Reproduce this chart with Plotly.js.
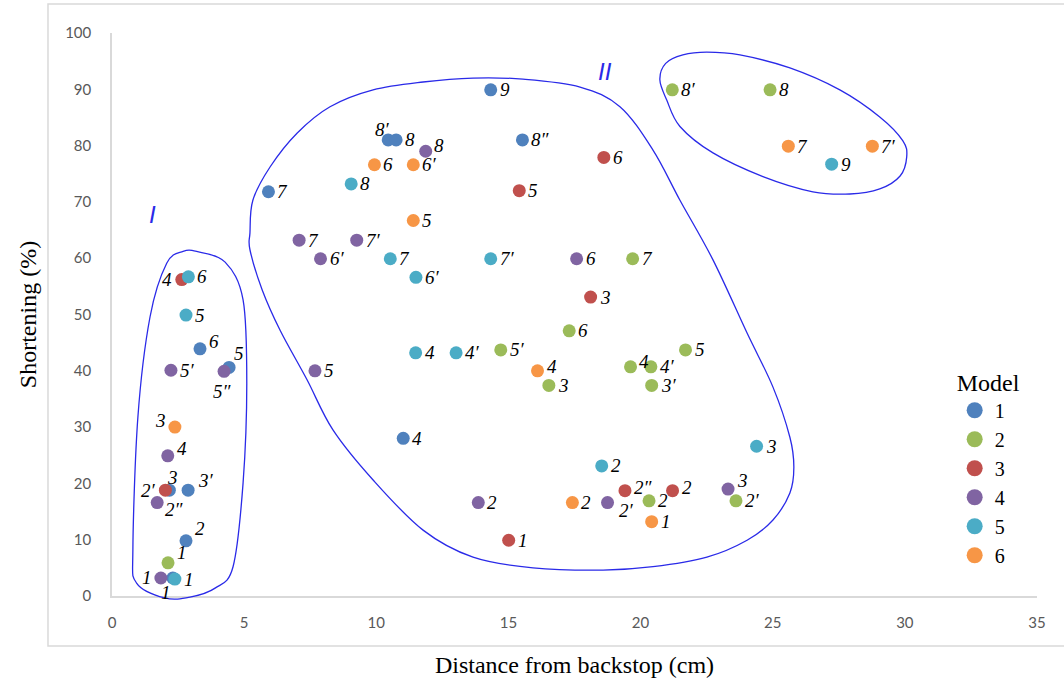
<!DOCTYPE html>
<html>
<head>
<meta charset="utf-8">
<script src="https://cdn.plot.ly/plotly-3.0.1.min.js"></script>
<style>html,body{margin:0;padding:0;background:#fff;}#chart{width:1064px;height:680px;}</style>
</head>
<body>
<div id="chart"></div>
<script>
// ---- data ----
var models = ['1', '2', '3', '4', '5', '6'];

var m1_x = [2.30, 2.80, 2.17, 2.88, 11.02, 4.43, 3.33, 5.92, 10.45, 10.75, 15.53, 14.33];
var m1_y = [3.2, 9.8, 18.8, 18.8, 28.0, 40.6, 43.9, 71.8, 81.0, 81.0, 81.0, 89.9];
var m1_labels = ['1', '2', '3', '3′', '4', '5', '6', '7', '8′', '8', '8″', '9'];

var m2_x = [2.12, 20.32, 23.61, 16.53, 20.42, 19.62, 20.39, 21.70, 14.71, 17.30, 19.70, 21.20, 24.90];
var m2_y = [5.9, 16.9, 16.9, 37.4, 37.4, 40.7, 40.7, 43.7, 43.7, 47.1, 59.9, 89.9, 89.9];
var m2_labels = ['1', '2', '2′', '3', '3′', '4', '4′', '5', '5′', '6', '7', '8′', '8'];

var m3_x = [15.01, 21.21, 19.41, 2.02, 18.11, 2.64, 15.41, 18.61];
var m3_y = [9.9, 18.7, 18.7, 18.8, 53.1, 56.2, 72.0, 77.9];
var m3_labels = ['1', '2', '2″', '2′', '3', '4', '5', '6'];

var m4_x = [1.85, 13.86, 18.75, 1.71, 23.31, 2.11, 7.68, 2.23, 4.24, 17.58, 7.89, 7.08, 9.26, 11.87];
var m4_y = [3.2, 16.6, 16.6, 16.6, 19.0, 24.9, 40.0, 40.1, 39.9, 59.9, 59.9, 63.2, 63.2, 79.0];
var m4_labels = ['1', '2', '2′', '2″', '3', '4', '5', '5′', '5″', '6', '6′', '7', '7′', '8'];

var m5_x = [2.38, 18.53, 24.39, 11.49, 13.02, 2.80, 2.89, 11.50, 10.53, 14.33, 9.05, 27.23];
var m5_y = [3.0, 23.1, 26.6, 43.2, 43.2, 49.9, 56.7, 56.6, 59.9, 59.9, 73.2, 76.7];
var m5_labels = ['1', '2', '3', '4', '4′', '5', '6', '6′', '7', '7′', '8', '9'];

var m6_x = [20.42, 17.42, 2.38, 16.10, 11.40, 9.93, 11.40, 25.59, 28.77];
var m6_y = [13.2, 16.6, 30.0, 40.0, 66.7, 76.6, 76.6, 79.9, 79.9];
var m6_labels = ['1', '2', '3', '4', '5', '6', '6′', '7', '7′'];

var xTicks = [0, 5, 10, 15, 20, 25, 30, 35];
var yTicks = [0, 10, 20, 30, 40, 50, 60, 70, 80, 90, 100];

// ---- label placement (style): [anchor, x shift px, y shift px] ----
var D = ['left', 7, 0];
var m1_pos = [['center', -7, -15], ['left', 7, 12], ['center', 3, 13], ['left', 8, 10], D, ['left', 3, 14], ['left', 7, 7], D, ['center', -6, 10], D, D, D];
var m2_pos = [['left', 7, 10], D, D, D, D, ['left', 6, 5], D, D, D, D, D, D, D];
var m3_pos = [D, ['left', 7, 3], ['left', 7, 3], ['right', -7, 0], D, ['right', -8, 0], D, D];
var m4_pos = [['right', -7, 0], D, ['left', 9, -8], ['left', 6, -7], ['left', 7, 9], ['left', 7, 7], D, D, ['center', -2, -20], D, D, D, D, ['left', 6, 6]];
var m5_pos = [D, D, D, D, D, D, D, D, D, D, D, D];
var m6_pos = [D, D, ['right', -7, 7], ['left', 7, 4], D, D, D, D, D];

// ---- cluster outlines (data units) ----
var outlineI = [[3.20,61.2],[4.28,59.3],[4.96,52.6],[5.10,37.8],[4.96,20.1],[4.58,5.2],[3.90,1.4],[2.95,-0.2],[2.0,-0.35],[0.93,2.3],[0.79,8.2],[0.98,31.8],[1.44,49.6],[2.07,59.1],[2.69,61.2]];
var outlineII = [[5.22,64.5],[5.33,70.3],[5.98,76.2],[7.00,82.2],[8.25,86.9],[9.88,89.9],[11.77,91.3],[13.66,92.0],[15.55,91.8],[17.71,90.4],[19.22,86.9],[20.47,79.2],[21.49,70.3],[22.74,59.7],[24.03,46.7],[25.01,37.1],[25.65,28.2],[25.80,22.9],[25.65,18.3],[25.01,13.5],[24.03,9.9],[22.51,6.9],[20.47,5.2],[18.58,4.6],[15.93,5.0],[13.66,6.9],[11.77,11.7],[9.88,20.6],[8.36,29.5],[7.38,38.4],[6.36,47.2],[5.68,54.4],[5.22,61.5]];
var outlineIII = [[20.73,91.7],[20.95,94.6],[21.60,96.1],[22.50,96.6],[23.76,96.1],[25.65,93.8],[27.54,89.9],[29.05,85.1],[29.92,80.9],[30.07,78.0],[29.82,74.6],[29.05,72.3],[27.92,71.4],[26.52,71.8],[24.63,74.5],[22.74,78.7],[21.49,83.4],[20.99,88.1]];

var colors = ['#4F81BD', '#9BBB59', '#C0504D', '#8064A2', '#4BACC6', '#F79646'];
var XR = [0, 35], YR = [0, 100];

function toPaper(p) { return [(p[0] - XR[0]) / (XR[1] - XR[0]), (p[1] - YR[0]) / (YR[1] - YR[0])]; }
function smoothPath(ptsData) {
  var pts = ptsData.map(toPaper), n = pts.length;
  var d = 'M' + pts[0][0] + ',' + pts[0][1];
  for (var i = 0; i < n; i++) {
    var p0 = pts[(i - 1 + n) % n], p1 = pts[i], p2 = pts[(i + 1) % n], p3 = pts[(i + 2) % n];
    var c1 = [p1[0] + (p2[0] - p0[0]) / 6, p1[1] + (p2[1] - p0[1]) / 6];
    var c2 = [p2[0] - (p3[0] - p1[0]) / 6, p2[1] - (p3[1] - p1[1]) / 6];
    d += ' C' + c1[0] + ',' + c1[1] + ' ' + c2[0] + ',' + c2[1] + ' ' + p2[0] + ',' + p2[1];
  }
  return d + ' Z';
}

var series = [
  [m1_x, m1_y, m1_labels, m1_pos], [m2_x, m2_y, m2_labels, m2_pos], [m3_x, m3_y, m3_labels, m3_pos],
  [m4_x, m4_y, m4_labels, m4_pos], [m5_x, m5_y, m5_labels, m5_pos], [m6_x, m6_y, m6_labels, m6_pos]
];

var traces = [];
var annotations = [];
series.forEach(function (s, i) {
  traces.push({
    type: 'scatter', mode: 'markers', x: s[0], y: s[1], text: s[2],
    name: models[i], showlegend: false, cliponaxis: false,
    marker: { color: colors[i], size: 13 },
    hoverinfo: 'x+y+text'
  });
  s[0].forEach(function (xv, j) {
    var p = s[3][j];
    annotations.push({
      x: xv, y: s[1][j], xref: 'x', yref: 'y', text: s[2][j], showarrow: false,
      xanchor: p[0], yanchor: 'middle', xshift: p[1], yshift: p[2],
      font: { family: 'Liberation Serif', size: 19, color: '#000', style: 'italic' }
    });
  });
});
// legend entries
models.forEach(function (m, i) {
  traces.push({
    type: 'scatter', mode: 'markers', x: [null], y: [null], name: m, showlegend: true,
    marker: { color: colors[i], size: 17 }
  });
});

var lineCol = '#2a2ae8';
var shapes = [
  { type: 'rect', xref: 'paper', yref: 'paper', x0: -0.0692, x1: 1.04, y0: -0.0888, y1: 1.0515,
    line: { color: '#d9d9d9', width: 1.5 }, layer: 'below' },
  { type: 'path', xref: 'paper', yref: 'paper', path: smoothPath(outlineI), line: { color: lineCol, width: 1.3 } },
  { type: 'path', xref: 'paper', yref: 'paper', path: smoothPath(outlineII), line: { color: lineCol, width: 1.3 } },
  { type: 'path', xref: 'paper', yref: 'paper', path: smoothPath(outlineIII), line: { color: lineCol, width: 1.3 } }
];

annotations.push(
  { x: 1.55, y: 67.7, xref: 'x', yref: 'y', text: 'I', showarrow: false,
    font: { family: 'Liberation Sans', size: 24, color: lineCol, style: 'italic' } },
  { x: 18.65, y: 93.1, xref: 'x', yref: 'y', text: 'II', showarrow: false,
    font: { family: 'Liberation Sans', size: 24, color: lineCol, style: 'italic' } }
);

var layout = {
  width: 1064, height: 680,
  margin: { l: 112, r: 27, t: 33, b: 84 },
  paper_bgcolor: '#fff', plot_bgcolor: '#fff',
  showlegend: true,
  xaxis: {
    range: XR, tickvals: xTicks, ticktext: xTicks.map(String), showgrid: false, zeroline: false,
    showline: true, linecolor: '#d9d9d9', linewidth: 1.5, ticks: '', ticklabelstandoff: 12,
    tickfont: { family: 'Lato', size: 15, color: '#595959' },
    title: { text: 'Distance from backstop (cm)', standoff: 26, font: { family: 'Liberation Serif', size: 24, color: '#000' } },
    automargin: false
  },
  yaxis: {
    range: YR, tickvals: yTicks, ticktext: yTicks.map(String), showgrid: false, zeroline: false,
    showline: true, linecolor: '#d9d9d9', linewidth: 1.5, ticks: '', ticklabelstandoff: 16,
    tickfont: { family: 'Lato', size: 15, color: '#595959' },
    title: { text: 'Shortening (%)', standoff: 22, font: { family: 'Liberation Serif', size: 24, color: '#000' } },
    automargin: false
  },
  legend: {
    x: 0.911, y: 0.42, xanchor: 'left', yanchor: 'top', bgcolor: 'rgba(0,0,0,0)',
    title: { text: 'Model', font: { family: 'Liberation Serif', size: 24, color: '#000' } },
    font: { family: 'Liberation Serif', size: 20, color: '#000' }, tracegroupgap: 0, itemwidth: 30
  },
  shapes: shapes,
  annotations: annotations
};

Plotly.newPlot('chart', traces, layout, { displayModeBar: false });
</script>
</body>
</html>
